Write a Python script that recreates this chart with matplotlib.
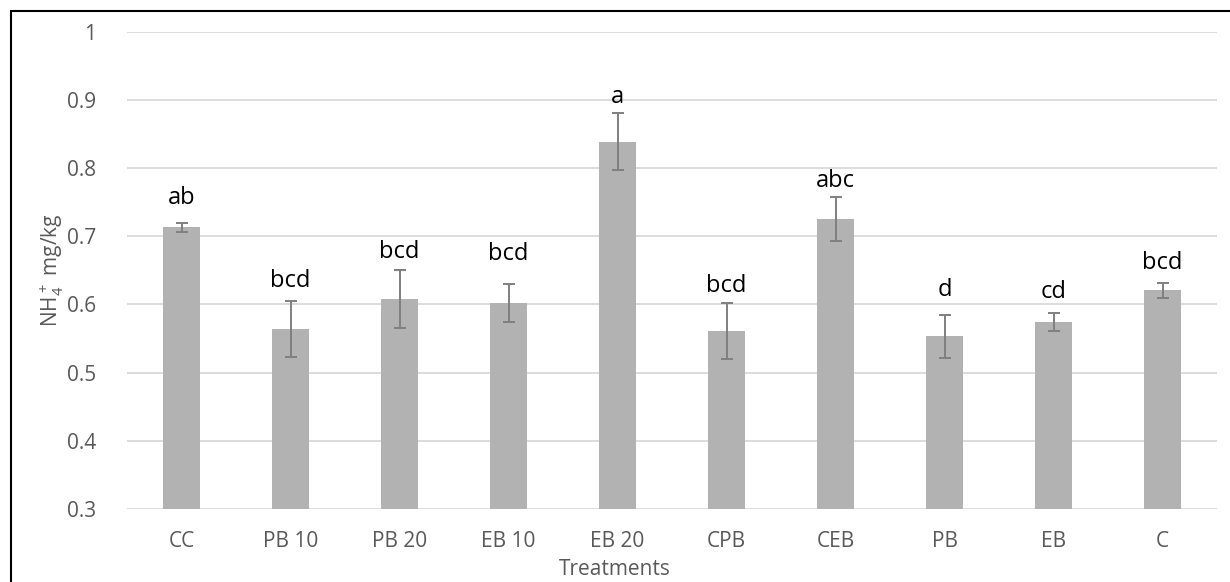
import numpy as np
import matplotlib.pyplot as plt
from matplotlib.patches import Rectangle

plt.rcParams['font.family'] = ['Open Sans', 'DejaVu Sans']
plt.rcParams['mathtext.default'] = 'regular'

# NH4+ data per treatment
treatments = ['CC', 'PB 10', 'PB 20', 'EB 10', 'EB 20', 'CPB', 'CEB', 'PB', 'EB', 'C']
means = [0.713, 0.564, 0.608, 0.602, 0.839, 0.561, 0.725, 0.553, 0.574, 0.621]
errors = [0.007, 0.041, 0.043, 0.028, 0.042, 0.041, 0.032, 0.031, 0.013, 0.011]
letters = ['ab', 'bcd', 'bcd', 'bcd', 'a', 'bcd', 'abc', 'd', 'cd', 'bcd']
letter_y = [0.747, 0.626, 0.668, 0.665, 0.896, 0.618, 0.772, 0.612, 0.610, 0.652]

fig = plt.figure(figsize=(12.3, 5.82), dpi=100)
ax = fig.add_axes([127 / 1230, 1 - 508.7 / 582, 1090 / 1230, (508.7 - 32) / 582])

x = np.arange(len(treatments))
ax.bar(x, means, width=0.34, color='#B2B2B2', zorder=2)
ax.errorbar(x, means, yerr=errors, fmt='none', ecolor='#7F7F7F',
            elinewidth=1.4, capsize=4.3, capthick=1.4, zorder=3)

for xi, lab, ly in zip(x, letters, letter_y):
    ax.text(xi, ly, lab, ha='center', va='baseline', fontsize=17, color='black')

ax.set_xlim(-0.5, len(treatments) - 0.5)
ax.set_ylim(0.3, 1.0)
ax.set_yticks(np.arange(0.3, 1.01, 0.1))
ax.set_yticklabels(['0.3', '0.4', '0.5', '0.6', '0.7', '0.8', '0.9', '1'])
ax.set_xticks(x)
ax.set_xticklabels(treatments)
ax.tick_params(axis='both', length=0, labelsize=15, labelcolor='#595959')
ax.tick_params(axis='x', pad=16)
ax.tick_params(axis='y', pad=22)

ax.grid(axis='y', color='#D9D9D9', linewidth=1.3, zorder=0)
for s in ax.spines.values():
    s.set_visible(False)

ax.set_xlabel('Treatments', fontsize=15, color='#595959')
ax.xaxis.set_label_coords(0.5, 1 - 559 / 582, transform=fig.transFigure)
ax.set_ylabel('NH$_4^+$ mg/kg', fontsize=15, color='#595959')
ax.yaxis.set_label_coords(66 / 1230, 1 - 270 / 582, transform=fig.transFigure)

# outer border
fig.patches.append(Rectangle((11 / 1230, -0.05), 1.2, 1 - 11 / 582 + 0.05,
                             transform=fig.transFigure, fill=False,
                             edgecolor='black', linewidth=1.5))

plt.savefig('out.png', dpi=100)
